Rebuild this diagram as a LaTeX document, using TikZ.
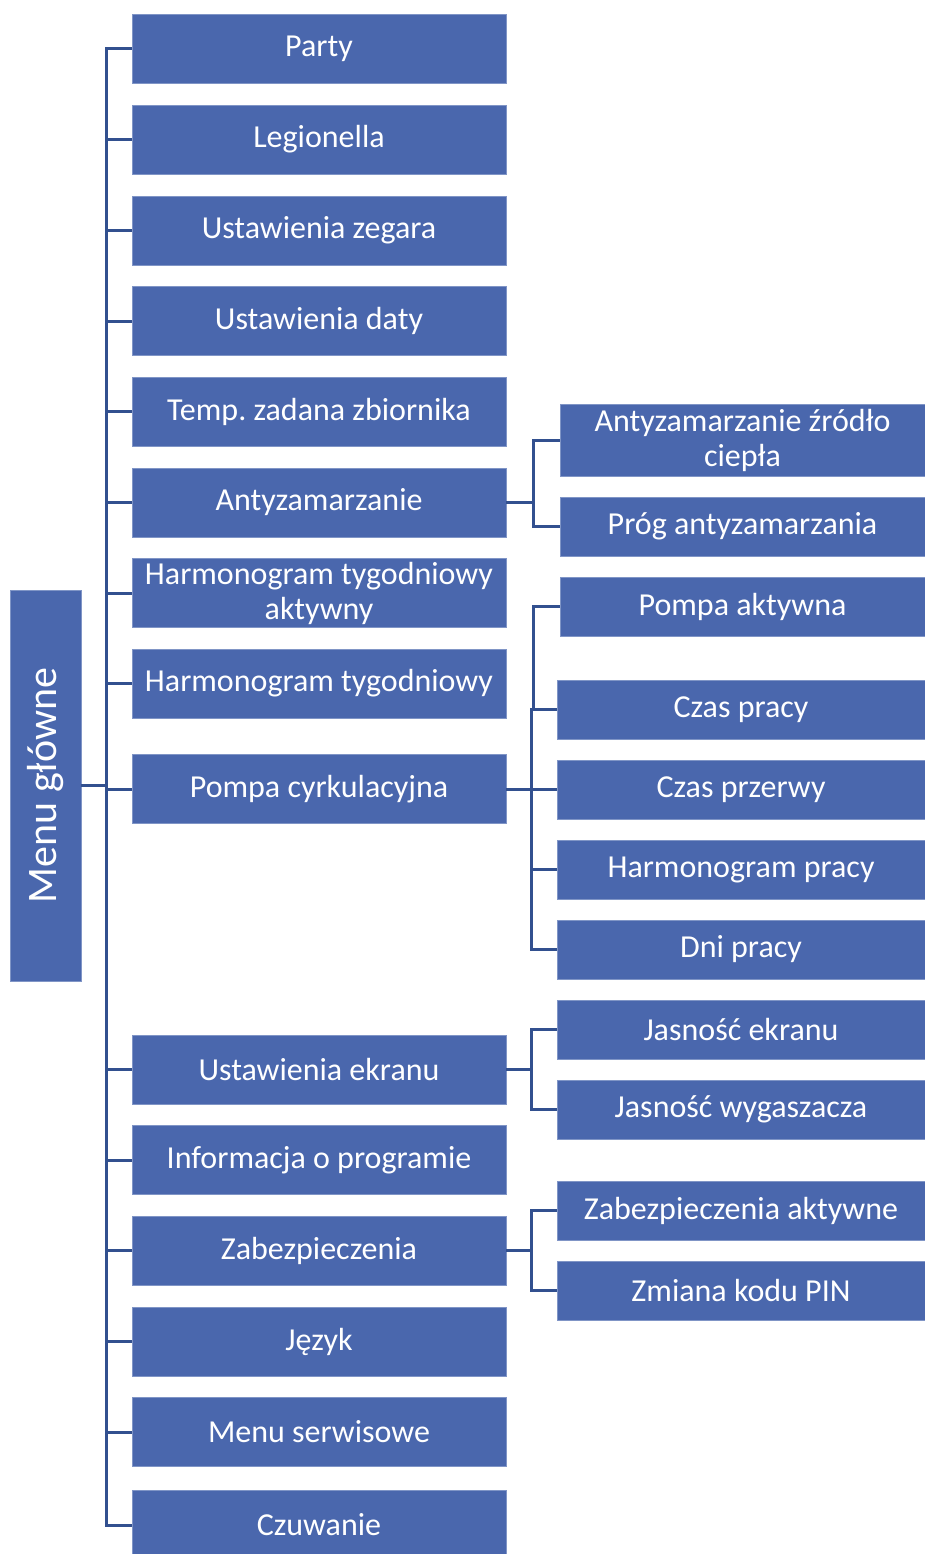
\documentclass[tikz,border=0pt]{standalone}
\usepackage{fontspec}
\setmainfont{Carlito}
\frenchspacing
\definecolor{boxblue}{HTML}{4A67AD}
\definecolor{lineblue}{HTML}{32508F}
\begin{document}
\begin{tikzpicture}[x=1pt,y=-1pt,
  menubox/.style={rectangle, fill=boxblue, draw=boxblue!70!white, line width=0.8pt,
    text=white, inner sep=0pt, align=center,
    font=\fontsize{32}{35}\selectfont},
  lvlone/.style={menubox, minimum width=374pt, minimum height=69pt},
  lvltwo/.style={menubox, minimum width=365pt, minimum height=59pt},
  lvltwob/.style={menubox, minimum width=368pt, minimum height=59pt},
  conn/.style={draw=lineblue, line width=3pt}]
\fill[white] (0,0) rectangle (925,1554);
\useasboundingbox (0,0) rectangle (925,1554);
\begin{scope}
\clip (0,0) rectangle (925,1554);
% root
\node[menubox, minimum width=71pt, minimum height=391pt] (root) at (45.5,785.5) {};
\node[text=white, rotate=90, font=\fontsize{42}{46}\selectfont] (roottext) at (root.center) {Menu główne};
% level one
\node[lvlone] (party) at (319,48.5) {Party};
\node[lvlone] (legio) at (319,139.5) {Legionella};
\node[lvlone] (zegar) at (319,230.5) {Ustawienia zegara};
\node[lvlone] (daty) at (319,321) {Ustawienia daty};
\node[lvlone] (temp) at (319,411.5) {Temp. zadana zbiornika};
\node[lvlone] (anty) at (319,502.5) {Antyzamarzanie};
\node[lvlone] (harmakt) at (319,593) {Harmonogram tygodniowy\\aktywny};
\node[lvlone] (harm) at (319,683.5) {Harmonogram tygodniowy};
\node[lvlone] (pompa) at (319,789) {Pompa cyrkulacyjna};
\node[lvlone] (ekran) at (319,1069.5) {Ustawienia ekranu};
\node[lvlone] (info) at (319,1160) {Informacja o programie};
\node[lvlone] (zab) at (319,1250.5) {Zabezpieczenia};
\node[lvlone] (jezyk) at (319,1341.5) {Język};
\node[lvlone] (serw) at (319,1432) {Menu serwisowe};
\node[lvlone] (czuw) at (319,1525) {Czuwanie};
% level two
\node[lvltwo, minimum height=72pt] (azr) at (742.5,440) {Antyzamarzanie źródło\\ciepła};
\node[lvltwo] (prog) at (742.5,526.5) {Próg antyzamarzania};
\node[lvltwo] (pakt) at (742.5,606.5) {Pompa aktywna};
\node[lvltwob] (cpr) at (741,709.5) {Czas pracy};
\node[lvltwob] (cprz) at (741,789.5) {Czas przerwy};
\node[lvltwob] (hpr) at (741,869.5) {Harmonogram pracy};
\node[lvltwob] (dni) at (741,949.5) {Dni pracy};
\node[lvltwob] (jekr) at (741,1029.5) {Jasność ekranu};
\node[lvltwob] (jwyg) at (741,1109.5) {Jasność wygaszacza};
\node[lvltwob] (zakt) at (741,1210.5) {Zabezpieczenia aktywne};
\node[lvltwob] (pin) at (741,1290.5) {Zmiana kodu PIN};
\end{scope}
% connector coordinates
\coordinate (stem) at (106,0);
\coordinate (sa) at (533,0);
\coordinate (sb) at (531,0);
% main stem
\draw[conn] (root.east) -- (root.east -| stem);
\draw[conn] (party.west) -- (party.west -| stem) -- (czuw.west -| stem) -- (czuw.west);
\foreach \n in {legio,zegar,daty,temp,anty,harmakt,harm,pompa,ekran,info,zab,jezyk,serw}
  \draw[conn] (\n.west) -- (\n.west -| stem);
% Antyzamarzanie group
\draw[conn] (anty.east) -- (anty.east -| sa);
\draw[conn] (azr.west) -- (azr.west -| sa) -- (prog.west -| sa) -- (prog.west);
% Pompa group
\draw[conn] (pakt.west) -- (pakt.west -| sa) -- (cpr.west -| sa);
\draw[conn] (cpr.west) -- (cpr.west -| sb) -- (dni.west -| sb) -- (dni.west);
\draw[conn] (pompa.east) -- (pompa.east -| sb);
\draw[conn] (cprz.west) -- (cprz.west -| sb);
\draw[conn] (hpr.west) -- (hpr.west -| sb);
% Ekran group
\draw[conn] (ekran.east) -- (ekran.east -| sb);
\draw[conn] (jekr.west) -- (jekr.west -| sb) -- (jwyg.west -| sb) -- (jwyg.west);
% Zabezpieczenia group
\draw[conn] (zab.east) -- (zab.east -| sb);
\draw[conn] (zakt.west) -- (zakt.west -| sb) -- (pin.west -| sb) -- (pin.west);
\end{tikzpicture}
\end{document}
